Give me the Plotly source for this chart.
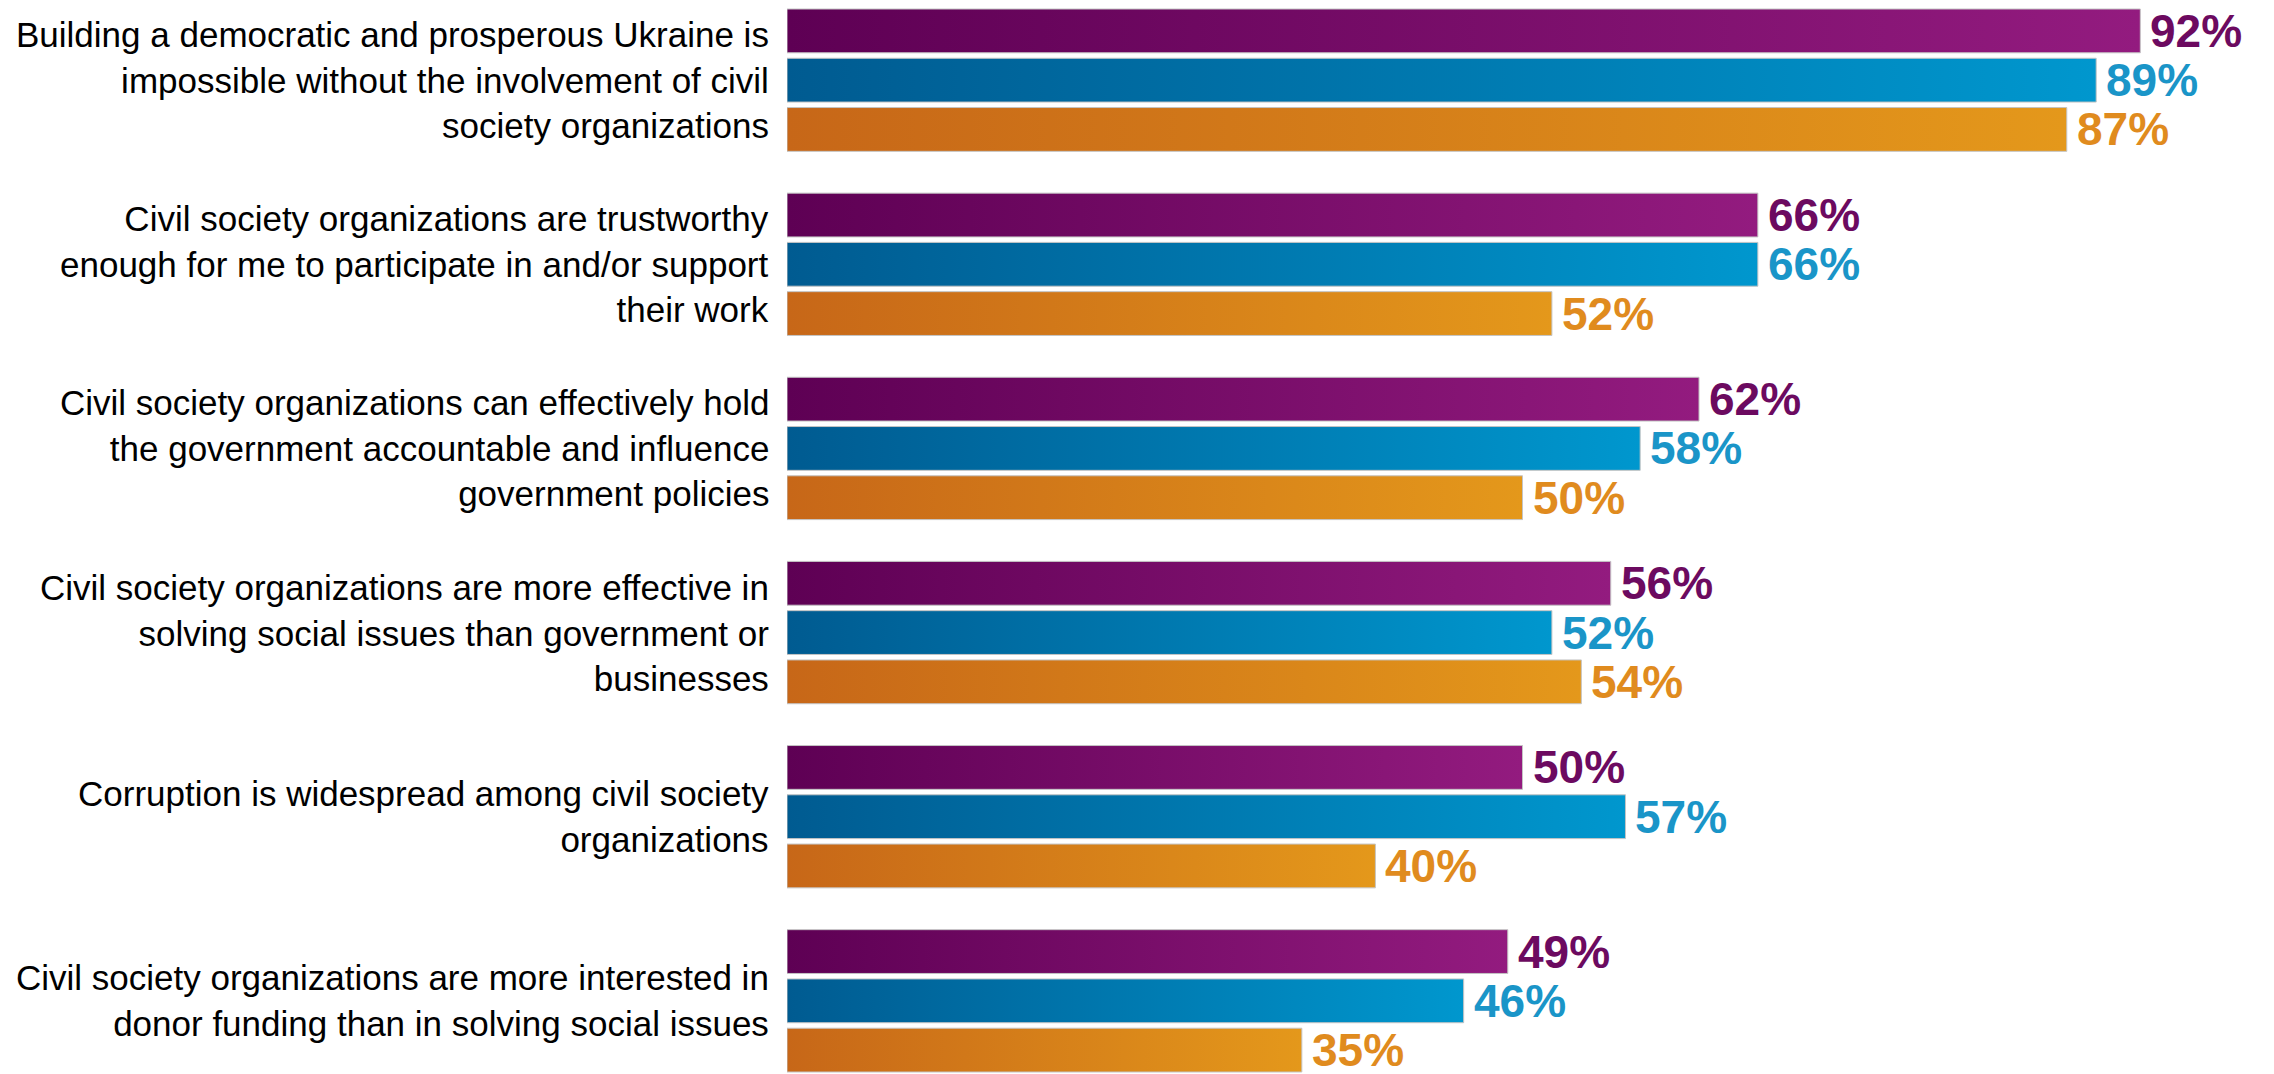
import plotly.graph_objects as go

# Survey statements (line breaks as in the original layout)
categories = [
    "Building a democratic and prosperous Ukraine is<br>impossible without the involvement of civil<br>society organizations",
    "Civil society organizations are trustworthy<br>enough for me to participate in and/or support<br>their work",
    "Civil society organizations can effectively hold<br>the government accountable and influence<br>government policies",
    "Civil society organizations are more effective in<br>solving social issues than government or<br>businesses",
    "Corruption is widespread among civil society<br>organizations",
    "Civil society organizations are more interested in<br>donor funding than in solving social issues",
]

# Share agreeing, % (three series per statement)
purple_vals = [92, 66, 62, 56, 50, 49]
blue_vals = [89, 66, 58, 52, 57, 46]
orange_vals = [87, 52, 50, 54, 40, 35]

# series styling: (values, gradient dark, gradient light, label colour)
series = [
    (purple_vals, '#5e0054', '#931b7f', '#6c0a60'),
    (blue_vals, '#005b91', '#0097ce', '#1a95c8'),
    (orange_vals, '#c76718', '#e4981b', '#e08b1e'),
]

# page body has an 8px margin, so the figure is a bit smaller than the window
W, H = 2266, 1066
left = 779
px_per_pct = 14.71
bar_pitch = 49.5 / 185.0
half_h = 22.0 / 185.0

fig = go.Figure()

for s, (vals, c0, c1, lab_col) in enumerate(series):
    for g, v in enumerate(vals):
        yc = g + (s - 1) * bar_pitch
        fig.add_scatter(
            x=[0, v, v, 0, 0],
            y=[yc - half_h, yc - half_h, yc + half_h, yc + half_h, yc - half_h],
            mode='lines', fill='toself',
            line=dict(color='#c4c4c4', width=1),
            fillgradient=dict(type='horizontal', start=0, stop=v,
                              colorscale=[[0, c0], [1, c1]]),
            hoverinfo='skip', showlegend=False,
        )
        fig.add_annotation(
            x=v, y=yc, xref='x', yref='y', text='<b>%d%%</b>' % v,
            xanchor='left', yanchor='middle', xshift=8, showarrow=False,
            font=dict(family='Liberation Sans, Arial', size=46, color=lab_col),
        )

# statement labels, right-aligned next to the bars
for g, cat in enumerate(categories):
    fig.add_annotation(
        x=0, y=g, xref='x', yref='y', text=cat, align='right',
        xanchor='right', yanchor='middle', xshift=-16, showarrow=False,
        font=dict(family='Liberation Sans, Arial', size=35, color='#000000'),
    )

y_first = -bar_pitch - half_h
y_last = 5 + bar_pitch + half_h
scale = (H - 3) / (y_last - y_first)
fig.update_xaxes(range=[0, (W - left) / px_per_pct], visible=False, fixedrange=True)
fig.update_yaxes(range=[y_last + 2 / scale, y_first - 1 / scale], visible=False, fixedrange=True)
fig.update_layout(
    width=W, height=H,
    margin=dict(l=left, r=0, t=0, b=0),
    paper_bgcolor='white', plot_bgcolor='white',
    showlegend=False,
)

fig.write_html("out.html")
